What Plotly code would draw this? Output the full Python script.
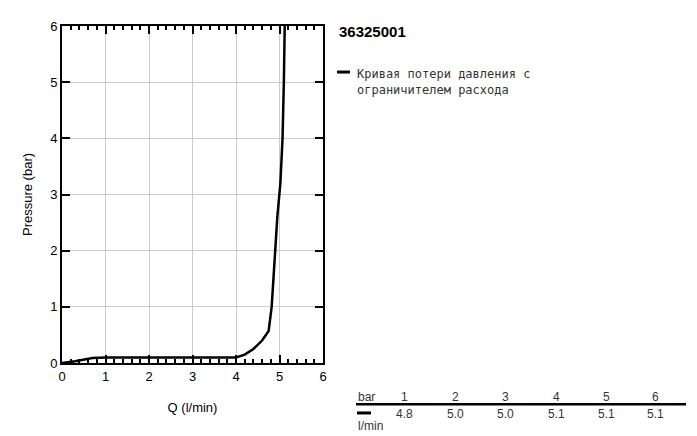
import plotly.graph_objects as go

# curve
q = [0, 0.3, 0.7, 1.0, 2.0, 3.0, 4.0, 4.2, 4.4, 4.6, 4.75, 4.82, 4.88, 4.95, 5.02, 5.07, 5.1, 5.12]
p = [0, 0.03, 0.09, 0.1, 0.1, 0.1, 0.1, 0.15, 0.25, 0.4, 0.57, 1.0, 1.8, 2.6, 3.2, 4.0, 5.0, 6.0]

# table under the legend
bar_vals = ["1", "2", "3", "4", "5", "6"]
flow_vals = ["4.8", "5.0", "5.0", "5.1", "5.1", "5.1"]

O = 8  # page body margin
W, H = 697 - O, 436 - O
L, R, T, B = 62 - O, 323 - O, 19 - O, 363 - O


def px(x):
    return (x - O - L) / (R - L)


def py(y):
    return (B - (y - O)) / (B - T)


fig = go.Figure()
fig.add_trace(go.Scatter(x=q, y=p, mode="lines", line=dict(color="black", width=2.5),
                         showlegend=False))

font = dict(family="Arial, Liberation Sans", size=13, color="black")
axis = dict(range=[0, 6], dtick=1, showline=True, linecolor="black", linewidth=2, mirror="allticks",
            ticks="inside", ticklen=8, tickwidth=1.5, tickcolor="black", showgrid=True,
            gridcolor="#cccccc", gridwidth=1, zeroline=False, tickfont=font)
fig.update_xaxes(**axis, minor=dict(dtick=0.2, ticks="inside", ticklen=4, tickcolor="black",
                                    showgrid=False),
                 title=dict(text="Q (l/min)", font=font, standoff=20))
fig.update_yaxes(**axis, title=dict(text="Pressure (bar)", font=font))

ann = []
ann.append(dict(x=px(337), y=py(25), text="<b>36325001</b>", xanchor="left", yanchor="middle",
                font=dict(family="Arial, Liberation Sans", size=15, color="black")))
ann.append(dict(x=px(355), y=py(76), text="Кривая потери давления с<br>ограничителем расхода",
                xanchor="left", yanchor="middle", align="left",
                font=dict(family="DejaVu Sans Mono, Liberation Mono", size=12, color="#333333")))
tf = dict(family="Arial, Liberation Sans", size=12, color="#333333")
ann.append(dict(x=px(356), y=py(398), text="bar", xanchor="left", yanchor="middle", font=tf))
ann.append(dict(x=px(356), y=py(427), text="l/min", xanchor="left", yanchor="middle", font=tf))
cols = [404, 455, 505, 556, 606, 655]
for c, b, f in zip(cols, bar_vals, flow_vals):
    ann.append(dict(x=px(c), y=py(398), text=b, xanchor="center", yanchor="middle", font=tf))
    ann.append(dict(x=px(c), y=py(415), text=f, xanchor="center", yanchor="middle", font=tf))
for a in ann:
    a.update(xref="paper", yref="paper", showarrow=False)

shapes = [
    dict(type="line", xref="paper", yref="paper", x0=px(337), x1=px(350), y0=py(66), y1=py(66),
         line=dict(color="black", width=3)),
    dict(type="line", xref="paper", yref="paper", x0=px(356), x1=px(686), y0=py(405), y1=py(405),
         line=dict(color="black", width=2.5)),
    dict(type="line", xref="paper", yref="paper", x0=px(357), x1=px(371), y0=py(414), y1=py(414),
         line=dict(color="black", width=3)),
]

fig.update_layout(width=W, height=H, margin=dict(l=L, r=W - R, t=T, b=H - B),
                  plot_bgcolor="white", paper_bgcolor="white", annotations=ann, shapes=shapes)
fig.write_html("out.html")
